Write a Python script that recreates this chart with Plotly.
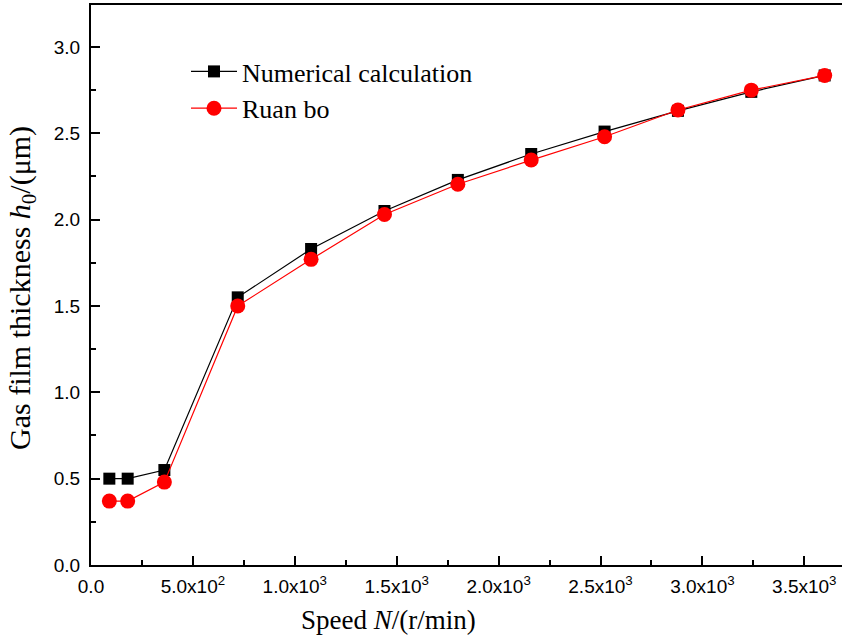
import plotly.graph_objects as go

speed = [90, 180, 360, 720, 1080, 1440, 1800, 2160, 2520, 2880, 3240, 3600]
numerical = [0.50, 0.50, 0.55, 1.55, 1.83, 2.05, 2.23, 2.38, 2.51, 2.63, 2.74, 2.835]
ruan_bo = [0.37, 0.37, 0.48, 1.50, 1.77, 2.03, 2.205, 2.345, 2.48, 2.635, 2.75, 2.835]

x_tickvals = [0, 500, 1000, 1500, 2000, 2500, 3000, 3500]
x_ticktext = ["0.0", "5.0x10<sup>2</sup>", "1.0x10<sup>3</sup>", "1.5x10<sup>3</sup>",
              "2.0x10<sup>3</sup>", "2.5x10<sup>3</sup>", "3.0x10<sup>3</sup>", "3.5x10<sup>3</sup>"]
y_tickvals = [0.0, 0.5, 1.0, 1.5, 2.0, 2.5, 3.0]
y_ticktext = ["0.0", "0.5", "1.0", "1.5", "2.0", "2.5", "3.0"]

fig = go.Figure()
fig.add_trace(go.Scatter(
    x=speed, y=numerical, name="Numerical calculation", mode="lines+markers",
    line=dict(color="black", width=1.2),
    marker=dict(symbol="square", size=12, color="black"),
    legendgroup="a"))
fig.add_trace(go.Scatter(
    x=speed, y=ruan_bo, name="Ruan bo", mode="lines+markers",
    line=dict(color="red", width=1.2),
    marker=dict(symbol="circle", size=15, color="red"),
    legendgroup="b"))

axis_common = dict(
    showgrid=False, zeroline=False, showline=True, linecolor="black", linewidth=2,
    ticks="inside", ticklen=9, tickwidth=1.5, tickcolor="black",
    tickfont=dict(family="Liberation Sans, Arial", size=19, color="black"),
)

fig.update_xaxes(
    range=[0, 3685], tickmode="array", tickvals=x_tickvals, ticktext=x_ticktext,
    mirror=True, ticklabelstandoff=3,
    minor=dict(ticks="inside", ticklen=5, tickwidth=1.5, tickcolor="black", dtick=250, tick0=0),
    **axis_common)
fig.update_yaxes(
    range=[0, 3.243], tickmode="array", tickvals=y_tickvals, ticktext=y_ticktext,
    mirror=False, ticklabelstandoff=5,
    minor=dict(ticks="inside", ticklen=5, tickwidth=1.5, tickcolor="black", dtick=0.25, tick0=0),
    **axis_common)

fig.add_annotation(
    text="Speed <i>N</i>/(r/min)", xref="paper", yref="paper",
    x=(388 - 91) / 751, y=-55 / 560, xanchor="center", yanchor="middle", showarrow=False,
    font=dict(family="Liberation Serif, Times New Roman", size=27, color="black"))
fig.add_annotation(
    text="Gas film thickness <i>h</i><sub>0</sub>/(μm)", xref="paper", yref="paper",
    x=-69 / 751, y=(565 - 288) / 560, xanchor="center", yanchor="middle", textangle=-90,
    showarrow=False,
    font=dict(family="Liberation Serif, Times New Roman", size=30, color="black"))

fig.update_layout(
    width=842, height=637,
    margin=dict(l=91, r=0, t=5, b=72),
    paper_bgcolor="white", plot_bgcolor="white",
    showlegend=True,
    legend=dict(
        x=(186 - 91) / 751, y=(565 - 48) / 560, xanchor="left", yanchor="top",
        bgcolor="rgba(0,0,0,0)", tracegroupgap=0, traceorder="grouped", itemwidth=46,
        font=dict(family="Liberation Serif, Times New Roman", size=26, color="black"),
    ),
)

fig.write_html("out.html", config={"displayModeBar": False},
               post_script="document.body.style.margin='0';")
